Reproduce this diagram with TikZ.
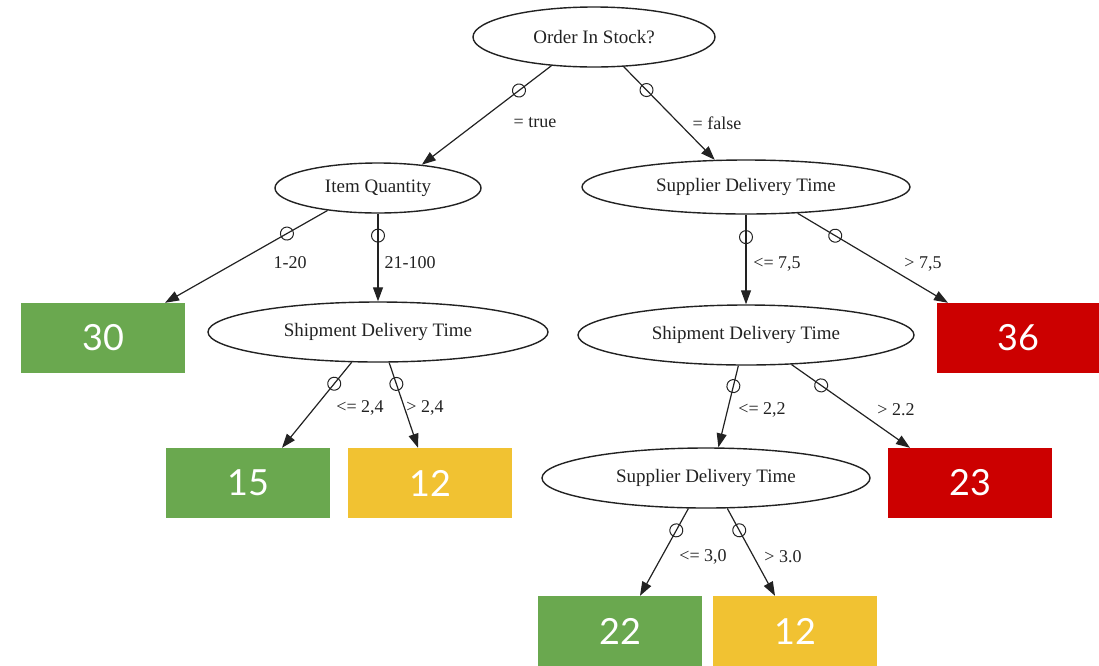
\documentclass[tikz,border=0pt]{standalone}
\usepackage{fontspec}
\setmainfont{Liberation Serif}
\newfontfamily\numfont{Lato}
\usetikzlibrary{shapes.geometric,arrows.meta}

\definecolor{leafgreen}{HTML}{6AA84F}
\definecolor{leafyellow}{HTML}{F1C232}
\definecolor{leafred}{HTML}{CC0000}
\definecolor{inkgray}{HTML}{222222}

\tikzset{
  test/.style={ellipse, draw=inkgray, line width=1.4pt, inner sep=0pt,
    font=\fontsize{19}{19}\selectfont, text=inkgray},
  leaf/.style={rectangle, inner sep=0pt, minimum width=164pt, minimum height=70pt,
    text=white, font=\numfont\fontsize{36}{36}\selectfont},
  edge/.style={draw=inkgray, line width=1.2pt, -{Triangle[length=14pt,width=10pt]}},
  odot/.style={circle, draw=inkgray, line width=1pt, inner sep=0pt,
    minimum size=13pt, pos=0.25, sloped},
  cond/.style={font=\fontsize{18}{18}\selectfont, text=inkgray, inner sep=0pt},
}

\begin{document}
\begin{tikzpicture}[x=1pt, y=-1pt]
  \useasboundingbox (0,0) rectangle (1099,665);

  % decision nodes
  \node[test, minimum width=242pt, minimum height=60pt] (order) at (594,37) {Order In Stock?};
  \node[test, minimum width=206pt, minimum height=50pt] (itemq) at (378,188) {Item Quantity};
  \node[test, minimum width=328pt, minimum height=54pt] (supT)  at (746,187) {Supplier Delivery Time};
  \node[test, minimum width=340pt, minimum height=60pt] (shipL) at (378,332) {Shipment Delivery Time};
  \node[test, minimum width=336pt, minimum height=60pt] (shipR) at (746,335) {Shipment Delivery Time};
  \node[test, minimum width=328pt, minimum height=60pt] (supB)  at (706,478) {Supplier Delivery Time};

  % outcome leaves
  \node[leaf, fill=leafgreen]  (b30)  at (103,338) {30};
  \node[leaf, fill=leafgreen]  (b15)  at (248,483) {15};
  \node[leaf, fill=leafyellow] (b12a) at (430,483) {12};
  \node[leaf, fill=leafred, minimum width=162pt] (b36) at (1018,338) {36};
  \node[leaf, fill=leafred]    (b23)  at (970,483) {23};
  \node[leaf, fill=leafgreen]  (b22)  at (620,631) {22};
  \node[leaf, fill=leafyellow] (b12b) at (795,631) {12};

  % branches
  \draw[edge] (order.214.5) -- node[odot]{} (itemq.28.5);
  \draw[edge] (order.315)   -- node[odot]{} (supT.139.5);
  \draw[edge] (itemq.204.7) -- node[odot]{} ([xshift=62pt]b30.north);
  \draw[edge] (itemq.south) -- node[odot]{} (shipL.north);
  \draw[edge] (shipL.229.9) -- node[odot]{} ([xshift=34pt]b15.north);
  \draw[edge] (shipL.290.2) -- node[odot]{} ([xshift=-12pt]b12a.north);
  \draw[edge] (supT.south)  -- node[odot]{} (shipR.north);
  \draw[edge] (supT.333.3)  -- node[odot]{} ([xshift=-70pt]b36.north);
  \draw[edge] (shipR.256.9) -- node[odot]{} (supB.68.1);
  \draw[edge] (shipR.327.3) -- node[odot]{} ([xshift=-60pt]b23.north);
  \draw[edge] (supB.240.3)  -- node[odot]{} ([xshift=20pt]b22.north);
  \draw[edge] (supB.305.2)  -- node[odot]{} ([xshift=-20pt]b12b.north);

  % branch conditions
  \node[cond] (ltrue)  at (535,123) {= true};
  \node[cond] (lfalse) at (717,123) {= false};
  \node[cond] (lq1)    at (290,263) {1-20};
  \node[cond] (lq2)    at (410,263) {21-100};
  \node[cond] (ls1)    at (360,408) {<= 2,4};
  \node[cond] (ls2)    at (425,408) {> 2,4};
  \node[cond] (lt1)    at (777,264) {<= 7,5};
  \node[cond] (lt2)    at (923,264) {> 7,5};
  \node[cond] (lr1)    at (762,410) {<= 2,2};
  \node[cond] (lr2)    at (896,410) {> 2.2};
  \node[cond] (lb1)    at (703,557) {<= 3,0};
  \node[cond] (lb2)    at (783,557) {> 3.0};
\end{tikzpicture}
\end{document}
